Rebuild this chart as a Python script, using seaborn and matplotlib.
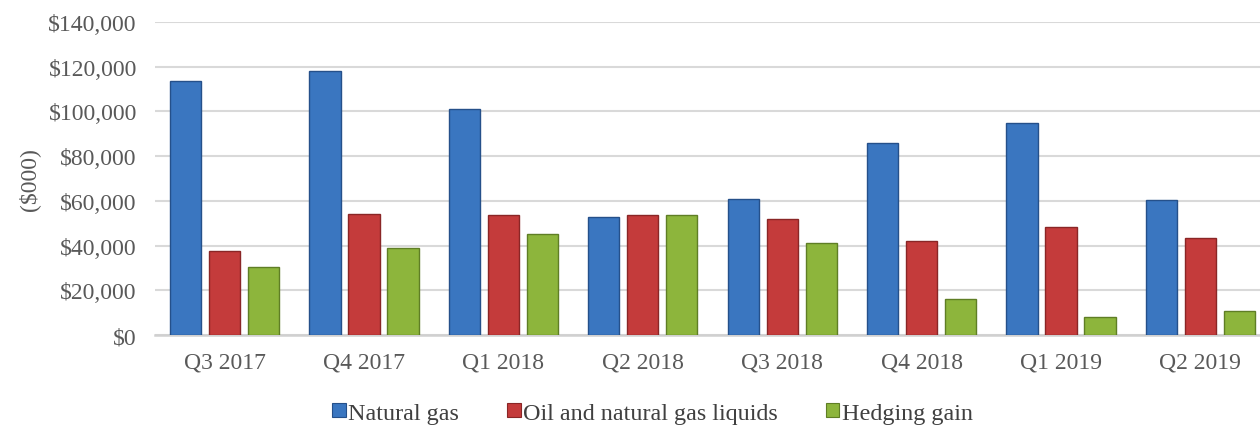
import matplotlib
matplotlib.use("Agg")
import matplotlib.pyplot as plt
import matplotlib.ticker as mticker
import seaborn as sns
import pandas as pd
from matplotlib.patches import Patch

quarters = ["Q3 2017", "Q4 2017", "Q1 2018", "Q2 2018", "Q3 2018", "Q4 2018", "Q1 2019", "Q2 2019"]
natural_gas = [113600, 118000, 101000, 52700, 61000, 85900, 94800, 60200]
oil_ngl = [37600, 54100, 53800, 53500, 51800, 42000, 48300, 43400]
hedging_gain = [30400, 38900, 45000, 53800, 41000, 16100, 8000, 10700]
series_names = ["Natural gas", "Oil and natural gas liquids", "Hedging gain"]
colors = ["#3A76C0", "#C43B3B", "#8DB53C"]
edge_colors = ["#25508A", "#8A2626", "#5F7E25"]

rows = []
for name, vals in zip(series_names, [natural_gas, oil_ngl, hedging_gain]):
    for q, v in zip(quarters, vals):
        rows.append({"Quarter": q, "Series": name, "Value": v})
df = pd.DataFrame(rows)

sns.set_theme(style="white")
plt.rcParams["font.family"] = ["Liberation Serif", "DejaVu Serif"]

fig = plt.figure(figsize=(12.6, 4.27), dpi=100)
ax = fig.add_axes([0.123, 0.213, 0.885, 0.733])

sns.barplot(data=df, x="Quarter", y="Value", hue="Series", order=quarters,
            hue_order=series_names, palette=colors, width=0.84, gap=0.2,
            saturation=1, ax=ax, legend=False, zorder=3)

for i, container in enumerate(ax.containers):
    for bar in container:
        bar.set_edgecolor(edge_colors[i])
        bar.set_linewidth(1.0)

ax.set_ylim(0, 140000)
ax.set_xlim(-0.5, 7.5)
ax.yaxis.set_major_locator(mticker.MultipleLocator(20000))
ax.yaxis.set_major_formatter(mticker.FuncFormatter(lambda v, p: f"${int(v):,}"))
ax.grid(axis="y", color="#D9D9D9", linewidth=1.5, zorder=0)
ax.set_axisbelow(True)
for s in ["top", "right", "left"]:
    ax.spines[s].set_visible(False)
ax.spines["bottom"].set_color("#D0D0D0")
ax.spines["bottom"].set_linewidth(1.8)

ax.tick_params(axis="both", length=0, labelsize=17, labelcolor="#595959")
ax.tick_params(axis="x", pad=12)
ax.tick_params(axis="y", pad=13)
ax.set_xlabel("")
ax.set_ylabel("($000)", fontsize=17, color="#595959", labelpad=6)

handles = [Patch(facecolor=c, edgecolor=e, linewidth=0.8) for c, e in zip(colors, edge_colors)]
fig.legend(handles, series_names, loc="center", bbox_to_anchor=(0.518, 0.03), ncol=3,
           frameon=False, fontsize=17.4, handlelength=0.55, handleheight=0.55,
           handletextpad=0.1, columnspacing=2.0, labelcolor="#404040")

fig.savefig("out.png", dpi=100)
